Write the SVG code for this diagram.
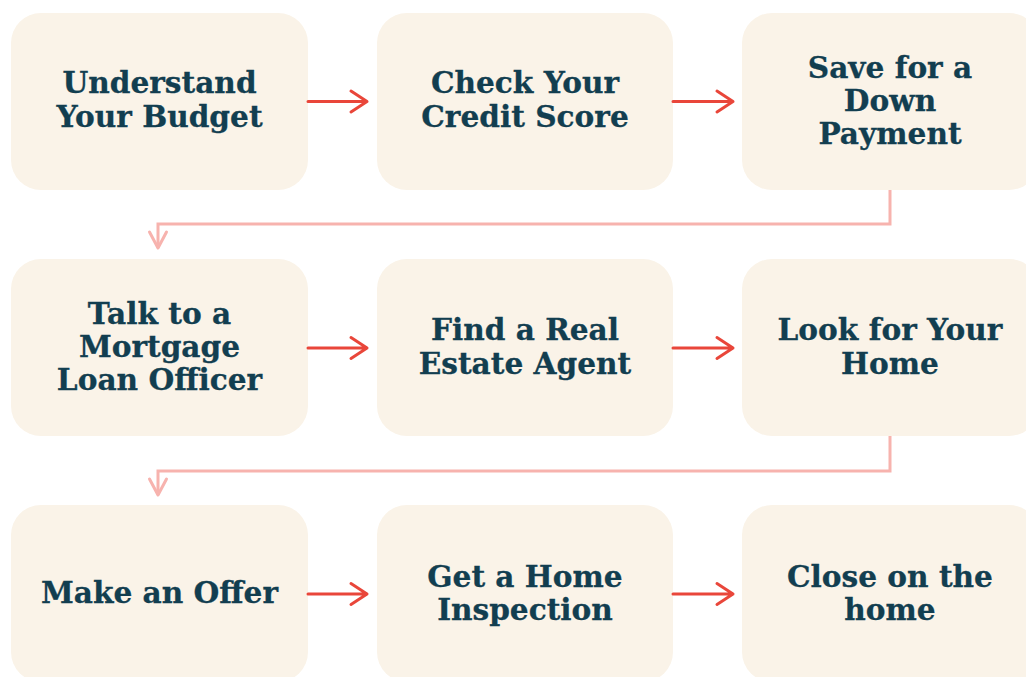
<svg xmlns="http://www.w3.org/2000/svg" width="1026" height="677" viewBox="0 0 1026 677">
  <style>
    .box { fill: #FAF3E8; }
    .label { font-family: "DejaVu Serif", "Liberation Serif", serif; font-weight: bold; font-size: 29.6px; fill: #123E50; stroke: #123E50; stroke-width: 0.3; text-anchor: middle; }
    .step { fill: none; stroke: #E9463A; stroke-width: 3; stroke-linecap: round; stroke-linejoin: round; }
    .wrap { fill: none; stroke: #F7B3AE; stroke-width: 3; stroke-linecap: butt; stroke-linejoin: miter; }
    .wrap-head { fill: none; stroke: #F7B3AE; stroke-width: 3; stroke-linecap: round; stroke-linejoin: round; }
  </style>
  <rect width="1026" height="677" fill="#FFFFFF"/>

  <!-- Row 1 -->
  <g id="understand-budget">
    <rect class="box" x="11" y="13" width="297" height="177" rx="30"/>
    <text class="label"><tspan x="159.5" y="93">Understand</tspan><tspan x="159.5" y="127">Your Budget</tspan></text>
  </g>
  <g id="check-credit">
    <rect class="box" x="377" y="13" width="296" height="177" rx="30"/>
    <text class="label"><tspan x="525" y="93">Check Your</tspan><tspan x="525" y="127">Credit Score</tspan></text>
  </g>
  <g id="save-down-payment">
    <rect class="box" x="742" y="13" width="297" height="177" rx="30"/>
    <text class="label"><tspan x="890" y="78">Save for a</tspan><tspan x="890" y="111">Down</tspan><tspan x="890" y="144">Payment</tspan></text>
  </g>

  <!-- Row 2 -->
  <g id="talk-loan-officer">
    <rect class="box" x="11" y="259" width="297" height="177" rx="30"/>
    <text class="label"><tspan x="159.5" y="324">Talk to a</tspan><tspan x="159.5" y="357">Mortgage</tspan><tspan x="159.5" y="390">Loan Officer</tspan></text>
  </g>
  <g id="find-agent">
    <rect class="box" x="377" y="259" width="296" height="177" rx="30"/>
    <text class="label"><tspan x="525" y="340">Find a Real</tspan><tspan x="525" y="374">Estate Agent</tspan></text>
  </g>
  <g id="look-for-home">
    <rect class="box" x="742" y="259" width="297" height="177" rx="30"/>
    <text class="label"><tspan x="890" y="340">Look for Your</tspan><tspan x="890" y="374">Home</tspan></text>
  </g>

  <!-- Row 3 -->
  <g id="make-offer">
    <rect class="box" x="11" y="505" width="297" height="177" rx="30"/>
    <text class="label" x="159.5" y="603">Make an Offer</text>
  </g>
  <g id="home-inspection">
    <rect class="box" x="377" y="505" width="296" height="177" rx="30"/>
    <text class="label"><tspan x="525" y="587">Get a Home</tspan><tspan x="525" y="620">Inspection</tspan></text>
  </g>
  <g id="close-home">
    <rect class="box" x="742" y="505" width="297" height="177" rx="30"/>
    <text class="label"><tspan x="890" y="587">Close on the</tspan><tspan x="890" y="620">home</tspan></text>
  </g>

  <g id="connectors">
    <!-- left-to-right steps -->
    <path class="step" d="M308 101.5 H367 M351 91 L367 101.5 L351 112"/>
    <path class="step" d="M673 101.5 H733 M717 91 L733 101.5 L717 112"/>
    <path class="step" d="M308 348 H367 M351 337.5 L367 348 L351 358.5"/>
    <path class="step" d="M673 348 H733 M717 337.5 L733 348 L717 358.5"/>
    <path class="step" d="M308 594 H367 M351 583.5 L367 594 L351 604.5"/>
    <path class="step" d="M673 594 H733 M717 583.5 L733 594 L717 604.5"/>
    <!-- row wrap-arounds -->
    <path class="wrap" d="M890 190 V224 H158 V248"/>
    <path class="wrap-head" d="M149.5 232 L158 248 L166.5 232"/>
    <path class="wrap" d="M890 436 V471 H158 V495"/>
    <path class="wrap-head" d="M149.5 479 L158 495 L166.5 479"/>
  </g>
</svg>
